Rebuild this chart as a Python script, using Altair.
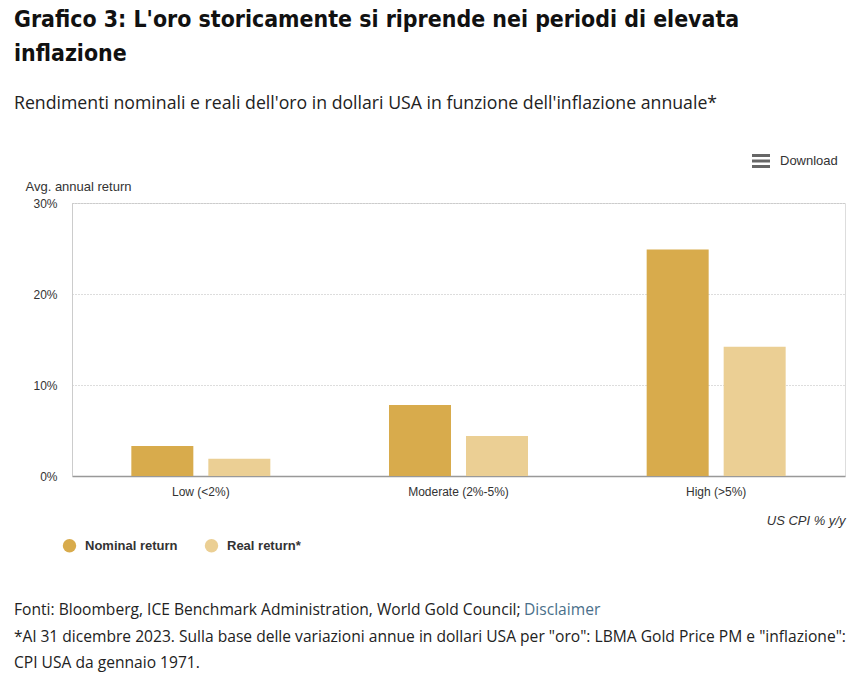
import altair as alt
import pandas as pd

categories = ["Low (<2%)", "Moderate (2%-5%)", "High (>5%)"]
series = ["Nominal return", "Real return*"]
nominal = [3.3, 7.8, 24.9]
real = [1.9, 4.4, 14.2]
y_ticks = [0, 10, 20, 30]
colors = ["#d8ab4c", "#ebcf94"]

rows = []
for c, n, r in zip(categories, nominal, real):
    rows.append({"cat": c, "series": series[0], "value": n})
    rows.append({"cat": c, "series": series[1], "value": r})
df = pd.DataFrame(rows)

W, H = 773, 273
OX, OY = 72, 203  # plot origin inside the page

bars = alt.Chart(df).mark_bar(size=62).encode(
    x=alt.X("cat:N", sort=categories,
            scale=alt.Scale(paddingInner=0.4606, paddingOuter=0.2303),
            axis=alt.Axis(title="US CPI % y/y", titleFontStyle="italic", titleFontWeight="normal",
                          titleFont="Liberation Sans", titleFontSize=13, titleColor="#333333",
                          titleAlign="right", titleX=W, titleY=44, titleBaseline="middle",
                          labelFont="Liberation Sans", labelFontSize=12, labelColor="#333333",
                          labelPadding=10, ticks=False, domainColor="#999999", domainWidth=1.5,
                          labelAngle=0)),
    xOffset=alt.XOffset("series:N", sort=series,
                        scale=alt.Scale(paddingInner=0.195, paddingOuter=0)),
    y=alt.Y("value:Q", scale=alt.Scale(domain=[0, 30], nice=False),
            axis=alt.Axis(values=y_ticks, labelExpr="datum.value + '%'",
                          title="Avg. annual return", titleAngle=0, titleX=-47, titleY=-17,
                          titleAlign="left", titleBaseline="middle", titleFontWeight="normal",
                          titleFont="Liberation Sans", titleFontSize=13, titleColor="#333333",
                          labelFont="Liberation Sans", labelFontSize=12, labelColor="#333333",
                          labelPadding=15, ticks=False, domainColor="#cccccc",
                          grid=True, gridDash=[1, 2], gridColor="#bbbbbb")),
    color=alt.Color("series:N", sort=series,
                    scale=alt.Scale(domain=series, range=colors),
                    legend=alt.Legend(title=None, orient="none", legendX=-10, legendY=335,
                                      direction="horizontal", symbolType="circle", symbolSize=180,
                                      labelFont="Liberation Sans", labelFontSize=13,
                                      labelFontWeight="bold", labelColor="#333333",
                                      columnPadding=26, symbolOffset=0, labelOffset=8)),
)

def txt(lines, x, y, size, font, weight="normal", color="#222222", style="normal", align="left"):
    d = pd.DataFrame({"t": lines, "i": list(range(len(lines)))})
    return alt.Chart(d).mark_text(align=align, baseline="middle", font=font, fontSize=size,
                                  fontWeight=weight, color=color, fontStyle=style).encode(
        text="t:N", x=alt.value(x - OX), y=alt.value(y - OY))

TF = "DejaVu Sans Condensed, Roboto, sans-serif"
title1 = txt(["Grafico 3: L'oro storicamente si riprende nei periodi di elevata"], 14, 20, 22.9,
             TF, weight="bold", color="#111111")
title2 = txt(["inflazione"], 14, 54, 22.9, TF, weight="bold", color="#111111")
subtitle = txt(["Rendimenti nominali e reali dell'oro in dollari USA in funzione dell'inflazione annuale*"],
               14, 104, 17.7, "Open Sans", color="#222222")

# hamburger menu icon (three thick bars)
menu_rows = pd.DataFrame({"k": [0, 1, 2]})
menu = alt.Chart(menu_rows).mark_rule(color="#666666", strokeWidth=3).encode(
    x=alt.value(752 - OX), x2=alt.value(770 - OX),
    y=alt.Y("k:Q", axis=None, scale=alt.Scale(domain=[0, 2], range=[155.5 - OY, 166.5 - OY], nice=False, zero=False)),
)
download = txt(["Download"], 780, 161, 13, "Liberation Sans", color="#333333")
foot1 = txt(["Fonti: Bloomberg, ICE Benchmark Administration, World Gold Council;"], 14, 610, 15.6,
            "Open Sans", color="#222222")
foot_link = txt(["Disclaimer"], 524, 610, 15.6, "Open Sans", color="#4a6f8a")
foot2 = txt(['*Al 31 dicembre 2023. Sulla base delle variazioni annue in dollari USA per "oro": LBMA Gold Price PM e "inflazione":'],
            14, 637, 15.6, "Open Sans", color="#222222")
foot3 = txt(["CPI USA da gennaio 1971."], 14, 663, 15.6, "Open Sans", color="#222222")

chart = alt.layer(bars, title1, title2, subtitle, menu, download, foot1, foot_link, foot2, foot3).resolve_scale(
    y="independent"
).properties(
    width=W, height=H,
    autosize=alt.AutoSizeParams(type="none"),
    padding={"left": OX, "top": OY, "right": 861 - OX - W, "bottom": 685 - OY - H},
).configure_view(stroke=None).configure(background="white")

chart.save("out.html", embed_options={"renderer": "svg", "actions": False})
